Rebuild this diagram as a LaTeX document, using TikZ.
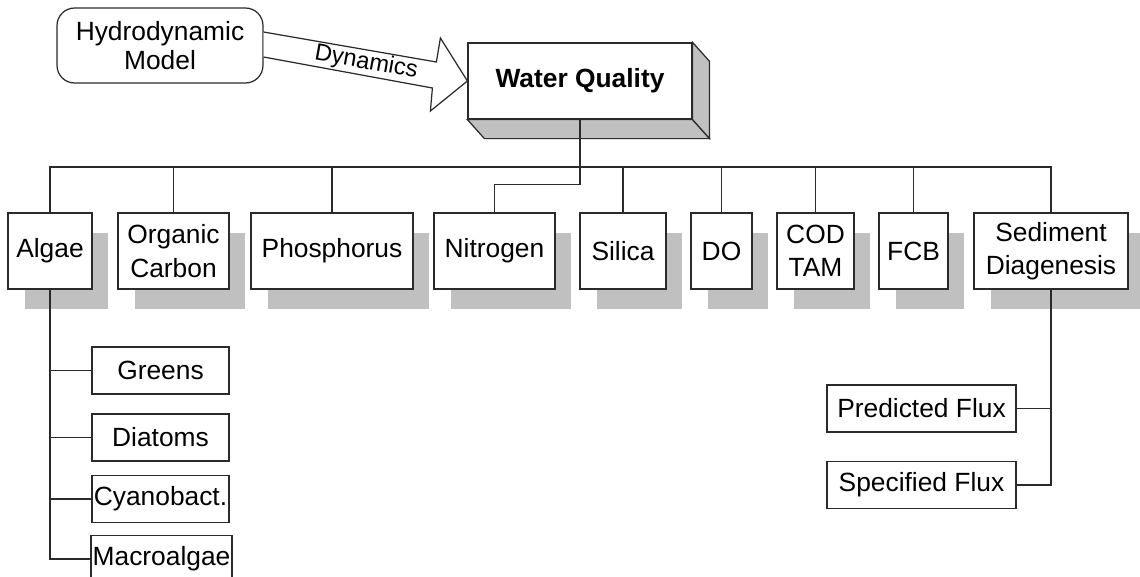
\documentclass[tikz,border=0pt]{standalone}
\usepackage{fontspec}
\setmainfont{Liberation Sans}
\usetikzlibrary{calc}
\usetikzlibrary{shadows}

\definecolor{shade}{HTML}{C0C0C0}
\definecolor{ink}{HTML}{2A2A2A}

\begin{document}
\begin{tikzpicture}[x=0.02cm,y=-0.02cm,line width=0.7pt,
        every node/.style={font=\fontsize{15}{19}\selectfont,text=black},
        box/.style={rectangle,draw=ink,fill=white,align=center,inner sep=1pt,minimum height=1.52cm,
          drop shadow={shadow xshift=0.33cm,shadow yshift=-0.4cm,fill=shade,opacity=1}},
        sub/.style={rectangle,draw=ink,fill=white,inner sep=1pt,minimum height=0.94cm},
        link/.style={draw=ink}]

        \useasboundingbox (0,0) rectangle (1140,576);

        % top: model and water quality block
        \node [draw=ink,rounded corners=10,align=center,minimum width=4.12cm,minimum height=1.5cm,
               font=\fontsize{15}{16.5}\selectfont] (hm) at (160,45.5) {Hydrodynamic\\Model};
        \node [draw=ink,fill=white,minimum width=4.48cm,minimum height=1.52cm,
               font=\fontsize{15}{19}\bfseries] (wq) at (580,81) {Water Quality};

        % 3d block under and right of water quality
        \path[link,fill=shade] (wq.south west) -- (wq.south east) -- ($(wq.south east)+(17,19)$)
          -- ($(wq.south west)+(17,19)$) -- cycle;
        \path[link,fill=shade] (wq.north east) -- ($(wq.north east)+(17,19)$)
          -- ($(wq.south east)+(17,19)$) -- (wq.south east) -- cycle;

        % big hollow arrow
        \draw[link,fill=white] ($(hm.east)+(0,-13.5)$) -- ($(wq.west)+(-31,-19)$) -- ($(wq.west)+(-27,-43)$)
          -- (wq.west) -- ($(wq.west)+(-37,30)$) -- ($(wq.west)+(-35,7)$) -- ($(hm.east)+(0,11.5)$);
        \path ($(hm.east)+(0,-1)$) -- ($(wq.west)+(-33,-6)$)
          node[pos=0.6,sloped,inner sep=0,font=\fontsize{13.5}{15}\selectfont] (dyn) {Dynamics};

        % state variable row
        \node [box,minimum width=1.68cm] (algae)  at (50,251)    {Algae};
        \node [box,minimum width=2.22cm] (orgc)   at (173.5,251) {Organic\\Carbon};
        \node [box,minimum width=3.24cm] (phos)   at (332,251)   {Phosphorus};
        \node [box,minimum width=2.42cm] (nitro)  at (494.5,251) {Nitrogen};
        \node [box,minimum width=1.72cm] (silica) at (623,251)   {Silica};
        \node [box,minimum width=1.22cm] (dox)    at (721.5,251) {DO};
        \node [box,minimum width=1.54cm] (cod)    at (815.5,251) {COD\\TAM};
        \node [box,minimum width=1.38cm] (fcb)    at (913.5,251) {FCB};
        \node [box,minimum width=3.08cm] (sed)    at (1051,251)  {Sediment\\Diagenesis};

        % algae groups
        \node [sub,minimum width=2.74cm] (greens) at (160.5,370.5) {Greens};
        \node [sub,minimum width=2.74cm] (diat)   at (160.5,437.5) {Diatoms};
        \node [sub,minimum width=2.74cm] (cyano)  at (160.5,499)   {Cyanobact.};
        \node [sub,minimum width=2.78cm] (macro)  at (161.5,559)   {Macroalgae};

        % sediment flux options
        \node [sub,minimum width=3.78cm] (pred) at (921.5,408.5) {Predicted Flux};
        \node [sub,minimum width=3.78cm] (spec) at (921.5,485)   {Specified Flux};

        % connectors
        \coordinate (bus) at (0,167);
        \coordinate (kink) at ($(nitro.north)+(0,-28)$);
        \draw[link] (algae.north) -- (algae.north |- bus) -- (sed.north |- bus) -- (sed.north);
        \foreach \n in {orgc,phos,silica,dox,cod,fcb}
          \draw[link] (\n.north) -- (\n.north |- bus);
        \draw[link] (wq.south) |- (kink) -- (nitro.north);

        \draw[link] (algae.south) -- (algae.south |- macro.west) -- (macro.west);
        \foreach \n in {greens,diat,cyano}
          \draw[link] (algae.south |- \n.west) -- (\n.west);

        \draw[link] (sed.south) -- (sed.south |- spec.east) -- (spec.east);
        \draw[link] (sed.south |- pred.east) -- (pred.east);
      \end{tikzpicture}
\end{document}
